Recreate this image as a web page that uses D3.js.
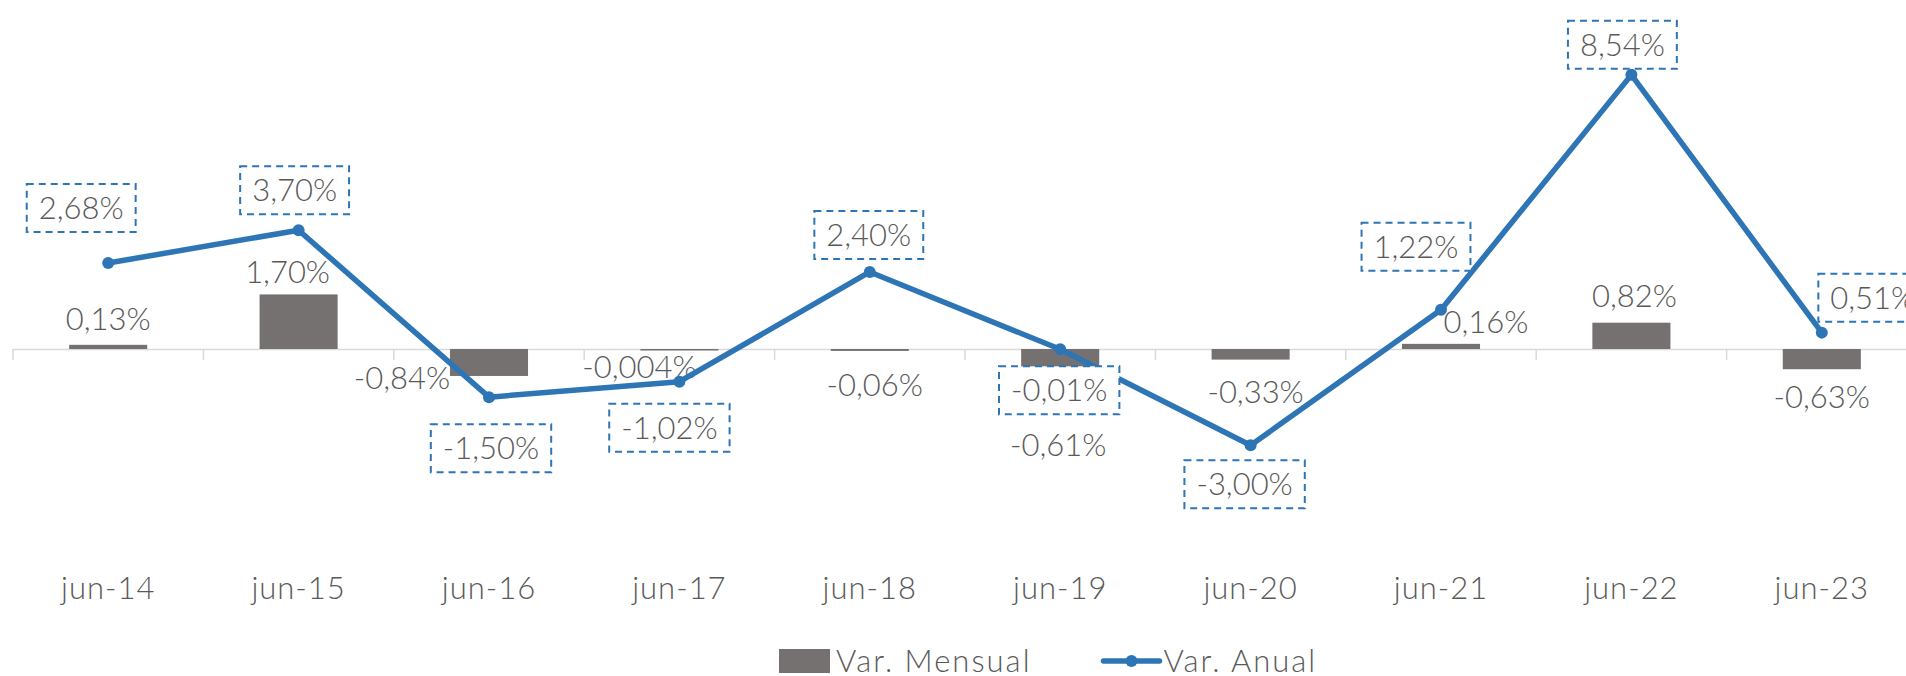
<!DOCTYPE html>
<html>
<head>
<meta charset="utf-8">
<title>Var. Mensual / Var. Anual</title>
<script src="https://d3js.org/d3.v7.min.js"></script>
<style>
  body { margin: 0; background: #fff; }
  svg text { font-family: Lato, "Noto Sans", sans-serif; font-weight: 300; fill: #595959; }
</style>
</head>
<body>
<div id="chart"></div>
<script>
// data
var categories = ["jun-14", "jun-15", "jun-16", "jun-17", "jun-18", "jun-19", "jun-20", "jun-21", "jun-22", "jun-23"];
var varMensual = [0.13, 1.70, -0.84, -0.004, -0.06, -0.61, -0.33, 0.16, 0.82, -0.63];
var varAnual = [2.68, 3.70, -1.50, -1.02, 2.40, -0.01, -3.00, 1.22, 8.54, 0.51];
var seriesNames = ["Var. Mensual", "Var. Anual"];

// label nudges (px) -- the labels were moved by hand in the original
var barLabelShift = [[0, -26], [-11, -23], [-87, 2], [-40, 18], [5, 34], [-2, 76], [5, 32], [45, -22], [3, -27], [0, 28]];
var lineLabelShift = [[-27, -55], [-4, -40], [2, 51], [-10, 46], [-1, -37], [-1, 41], [-6, 39], [-25, -63], [-9, -30], [51, -35]];

var width = 1906, height = 676;
var barColor = "#767171", lineColor = "#2e75b6";
var fontSize = 31;

var svg = d3.select("#chart").append("svg")
  .attr("width", width)
  .attr("height", height);

var x = d3.scaleBand().domain(categories).range([13, 1917]).padding(0);
var y = d3.scaleLinear().domain([-4, 10]).range([477.4, 28]);
var barW = x.bandwidth() * 0.41;
var cx = function (i) { return x(categories[i]) + x.bandwidth() / 2; };

function fmt(v) {
  var s = Math.abs(v) < 0.01 && v !== 0 ? v.toFixed(3) : v.toFixed(2);
  return s.replace(".", ",") + "%";
}

// category axis
var axis = svg.append("g")
  .attr("transform", "translate(0," + y(0) + ")")
  .call(d3.axisBottom(x).tickSize(0).tickFormat(""));
axis.select(".domain").attr("stroke", "#d9d9d9").attr("stroke-width", 1.5);
axis.selectAll(".bound")
  .data(d3.range(categories.length + 1))
  .enter().append("line")
  .attr("x1", function (i) { return x.range()[0] + i * x.bandwidth(); })
  .attr("x2", function (i) { return x.range()[0] + i * x.bandwidth(); })
  .attr("y1", 0).attr("y2", 11)
  .attr("stroke", "#d9d9d9").attr("stroke-width", 1.5);

svg.selectAll(".xlab")
  .data(categories)
  .enter().append("text")
  .attr("x", function (d, i) { return cx(i); })
  .attr("y", 599)
  .attr("text-anchor", "middle")
  .style("font-size", fontSize + "px")
  .style("letter-spacing", "1px")
  .text(function (d) { return d; });

// bars
svg.selectAll(".bar")
  .data(varMensual)
  .enter().append("rect")
  .attr("x", function (d, i) { return cx(i) - barW / 2; })
  .attr("y", function (d) { return y(Math.max(0, d)); })
  .attr("width", barW)
  .attr("height", function (d) { return Math.max(Math.abs(y(d) - y(0)), 1.5); })
  .attr("fill", barColor);

svg.selectAll(".barlab")
  .data(varMensual)
  .enter().append("text")
  .attr("x", function (d, i) { return cx(i) + barLabelShift[i][0]; })
  .attr("y", function (d, i) { return y(d) + barLabelShift[i][1] + fontSize * 0.36; })
  .attr("text-anchor", "middle")
  .style("font-size", fontSize + "px")
  .text(fmt);

// line
var line = d3.line()
  .x(function (d, i) { return cx(i); })
  .y(function (d) { return y(d); });

svg.append("path")
  .datum(varAnual)
  .attr("d", line)
  .attr("fill", "none")
  .attr("stroke", lineColor)
  .attr("stroke-width", 5.5)
  .attr("stroke-linejoin", "round");

svg.selectAll(".dot")
  .data(varAnual)
  .enter().append("circle")
  .attr("cx", function (d, i) { return cx(i); })
  .attr("cy", function (d) { return y(d); })
  .attr("r", 6)
  .attr("fill", lineColor);

// boxed line labels
var lab = svg.selectAll(".linelab")
  .data(varAnual)
  .enter().append("g")
  .attr("transform", function (d, i) {
    return "translate(" + (cx(i) + lineLabelShift[i][0]) + "," + (y(d) + lineLabelShift[i][1]) + ")";
  });
lab.append("text")
  .attr("text-anchor", "middle")
  .attr("y", fontSize * 0.36)
  .style("font-size", fontSize + "px")
  .text(fmt);
lab.insert("rect", "text")
  .each(function () {
    var bb = this.parentNode.querySelector("text").getBBox();
    d3.select(this)
      .attr("x", -bb.width / 2 - 12)
      .attr("y", -24)
      .attr("width", bb.width + 24)
      .attr("height", 48);
  })
  .attr("fill", "#fff")
  .attr("stroke", lineColor)
  .attr("stroke-width", 2)
  .attr("stroke-dasharray", "7,5");

// legend
var lg = svg.append("g").attr("transform", "translate(779,661)");
lg.append("rect").attr("x", 0).attr("y", -12).attr("width", 51).attr("height", 24).attr("fill", barColor);
var t1 = lg.append("text").attr("x", 57).attr("y", fontSize * 0.36)
  .style("font-size", fontSize + "px").style("letter-spacing", "2px").text(seriesNames[0]);
var x2 = 57 + t1.node().getBBox().width + 72;
lg.append("line").attr("x1", x2).attr("x2", x2 + 56).attr("y1", 0).attr("y2", 0)
  .attr("stroke", lineColor).attr("stroke-width", 5.5).attr("stroke-linecap", "round");
lg.append("circle").attr("cx", x2 + 28).attr("cy", 0).attr("r", 6).attr("fill", lineColor);
lg.append("text").attr("x", x2 + 60).attr("y", fontSize * 0.36)
  .style("font-size", fontSize + "px").style("letter-spacing", "2px").text(seriesNames[1]);
</script>
</body>
</html>
